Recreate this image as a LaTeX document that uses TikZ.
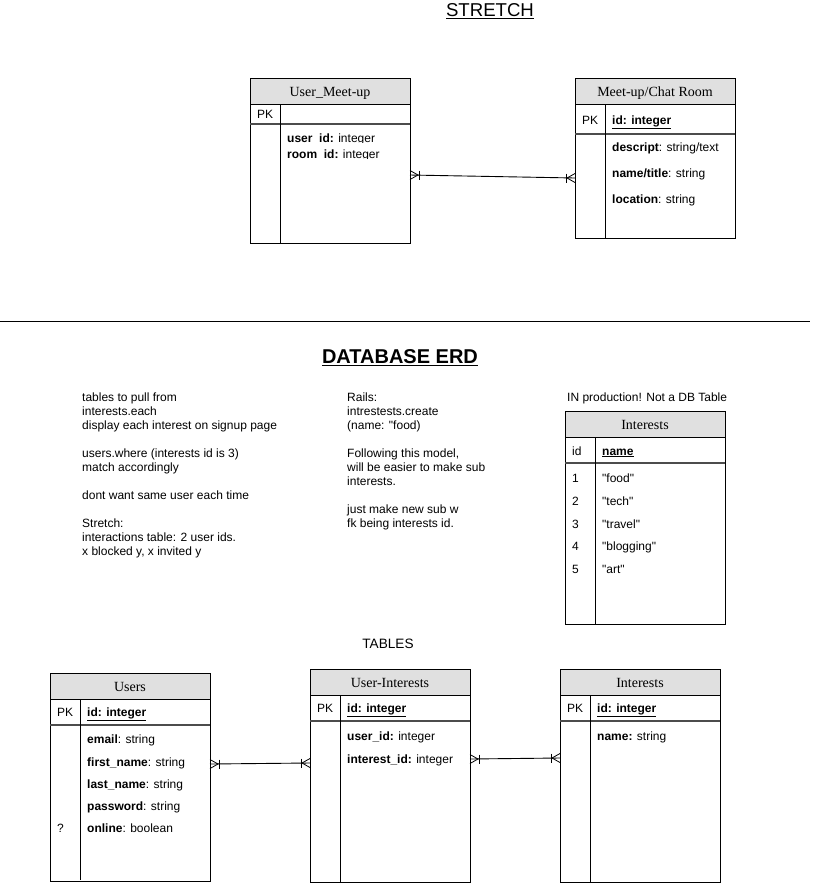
\documentclass[tikz,border=0pt]{standalone}
\usepackage{fontspec}
\setmainfont{Liberation Sans}[Ligatures=TeXOff]
\newfontfamily\serifft{Liberation Serif}[Ligatures=TeXOff]
\usetikzlibrary{calc}
\definecolor{hdrgray}{HTML}{E0E0E0}
\newcommand\nf{\fontsize{12}{14}\selectfont}
\newcommand\hf{\serifft\fontsize{14}{16}\selectfont}
\tikzset{
  tbl/.style={draw, line width=1pt, inner sep=0pt, outer sep=0pt, anchor=north west},
  hdr/.style={fill=hdrgray, draw, line width=1pt},
  sepline/.style={draw=black!70, line width=1.5pt},
  divline/.style={draw, line width=1pt},
  txt/.style={anchor=base west, inner sep=0pt, font=\nf},
  htxt/.style={anchor=base, inner sep=0pt, font=\hf},
  conn/.style={line width=0.9pt},
  crow/.pic={\draw[line width=0.8pt] (0,-4.5) -- (8,0) -- (0,4.5); \draw[line width=0.8pt] (9,-4.5) -- (9,4.5);}
}
\begin{document}
\begin{tikzpicture}[x=1pt,y=-1pt]
\useasboundingbox (0,0) rectangle (812,884);

% ---------- titles ----------
\node[inner sep=0pt, font=\fontsize{18.6}{20}\selectfont] (stretch) at (490,11) {\underline{STRETCH}};
\draw[line width=1pt] (0,321) -- (810,321);
\node[inner sep=0pt, font=\fontsize{20}{22}\selectfont\bfseries] (erd) at (400,358) {\underline{DATABASE ERD}};
\node[anchor=base, inner sep=0pt, font=\fontsize{13.6}{15}\selectfont] (tables) at (388,648) {TABLES};

% ---------- User_Meet-up ----------
\node[tbl, minimum width=160pt, minimum height=165pt] (um) at (250,78) {};
\filldraw[hdr] (250,78) rectangle (410,104);
\node[htxt] (umh) at (330,96) {User\_Meet-up};
\draw[sepline] (250,124) -- (410,124);
\draw[divline] (280,104) -- (280,243);
\node[txt] (umpk) at (257,118) {PK};
\begin{scope}
\clip (281,128) rectangle (409,142.6);
\node[txt] (umf1) at (287,142) {\textbf{user\_id:} integer};
\end{scope}
\begin{scope}
\clip (281,144) rectangle (409,158.6);
\node[txt] (umf2) at (287,158) {\textbf{room\_id:} integer};
\end{scope}

% ---------- Meet-up/Chat Room ----------
\node[tbl, minimum width=160pt, minimum height=160pt] (mc) at (575,78) {};
\filldraw[hdr] (575,78) rectangle (735,104);
\node[htxt] (mch) at (655,96) {Meet-up/Chat Room};
\draw[sepline] (575,134) -- (735,134);
\draw[divline] (605,104) -- (605,238);
\node[txt] (mcpk) at (582,124) {PK};
\node[txt] (mcid) at (612,124) {\textbf{\underline{id: integer}}};
\node[txt] (mcf1) at (612,151) {\textbf{descript}: string/text};
\node[txt] (mcf2) at (612,177) {\textbf{name/title}: string};
\node[txt] (mcf3) at (612,203) {\textbf{location}: string};

% ---------- stretch connector ----------
\coordinate (s1) at ($(um.north east)+(0,97)$);
\coordinate (s2) at ($(mc.north west)+(0,100)$);
\draw[conn] (s1) -- (s2);
\pic (cs1) at (s1) {crow};
\pic[xscale=-1] (cs2) at (s2) {crow};

% ---------- notes ----------
\node[txt] (l1) at (82,401) {tables to pull from};
\node[txt] (l2) at (82,415) {interests.each};
\node[txt] (l3) at (82,429) {display each interest on signup page};
\node[txt] (l4) at (82,457) {users.where (interests id is 3)};
\node[txt] (l5) at (82,471) {match accordingly};
\node[txt] (l6) at (82,499) {dont want same user each time};
\node[txt] (l7) at (82,527) {Stretch:};
\node[txt] (l8) at (82,541) {interactions table: 2 user ids.};
\node[txt] (l9) at (82,555) {x blocked y, x invited y};

\node[txt] (r1) at (347,401) {Rails:};
\node[txt] (r2) at (347,415) {intrestests.create};
\node[txt] (r3) at (347,429) {(name: "food)};
\node[txt] (r4) at (347,457) {Following this model,};
\node[txt] (r5) at (347,471) {will be easier to make sub};
\node[txt] (r6) at (347,485) {interests.};
\node[txt] (r7) at (347,513) {just make new sub w};
\node[txt] (r8) at (347,527) {fk being interests id.};

\node[txt] (prodnote) at (567,401) {IN production! Not a DB Table};

% ---------- Interests (production) ----------
\node[tbl, minimum width=160pt, minimum height=213pt] (ip) at (565,411) {};
\filldraw[hdr] (565,411) rectangle (725,437);
\node[htxt] (iph) at (645,429) {Interests};
\draw[sepline] (565,463) -- (725,463);
\draw[divline] (595,437) -- (595,624);
\node[txt] (ipid) at (572,455) {id};
\node[txt] (ipname) at (602,455) {\textbf{\underline{name}}};
\node[txt] (ipn1) at (572,482) {1};
\node[txt] (ipv1) at (602,482) {"food"};
\node[txt] (ipn2) at (572,505) {2};
\node[txt] (ipv2) at (602,505) {"tech"};
\node[txt] (ipn3) at (572,528) {3};
\node[txt] (ipv3) at (602,528) {"travel"};
\node[txt] (ipn4) at (572,550) {4};
\node[txt] (ipv4) at (602,550) {"blogging"};
\node[txt] (ipn5) at (572,573) {5};
\node[txt] (ipv5) at (602,573) {"art"};

% ---------- Users ----------
\node[tbl, minimum width=160pt, minimum height=208pt] (us) at (50,673) {};
\filldraw[hdr] (50,673) rectangle (210,699);
\node[htxt] (ush) at (130,691) {Users};
\draw[sepline] (50,725) -- (210,725);
\draw[divline] (80,699) -- (80,880);
\node[txt] (uspk) at (57,716) {PK};
\node[txt] (usid) at (87,716) {\textbf{\underline{id: integer}}};
\node[txt] (usf1) at (87,743) {\textbf{email}: string};
\node[txt] (usf2) at (87,766) {\textbf{first\_name}: string};
\node[txt] (usf3) at (87,788) {\textbf{last\_name}: string};
\node[txt] (usf4) at (87,810) {\textbf{password}: string};
\node[txt] (usq) at (57,832) {?};
\node[txt] (usf5) at (87,832) {\textbf{online}: boolean};

% ---------- User-Interests ----------
\node[tbl, minimum width=160pt, minimum height=213pt] (ui) at (310,669) {};
\filldraw[hdr] (310,669) rectangle (470,695);
\node[htxt] (uih) at (390,687) {User-Interests};
\draw[sepline] (310,721) -- (470,721);
\draw[divline] (340,695) -- (340,882);
\node[txt] (uipk) at (317,712) {PK};
\node[txt] (uiid) at (347,712) {\textbf{\underline{id: integer}}};
\node[txt] (uif1) at (347,740) {\textbf{user\_id:} integer};
\node[txt] (uif2) at (347,763) {\textbf{interest\_id:} integer};

% ---------- Interests ----------
\node[tbl, minimum width=160pt, minimum height=213pt] (it) at (560,669) {};
\filldraw[hdr] (560,669) rectangle (720,695);
\node[htxt] (ith) at (640,687) {Interests};
\draw[sepline] (560,721) -- (720,721);
\draw[divline] (590,695) -- (590,882);
\node[txt] (itpk) at (567,712) {PK};
\node[txt] (itid) at (597,712) {\textbf{\underline{id: integer}}};
\node[txt] (itf1) at (597,740) {\textbf{name:} string};

% ---------- connectors ----------
\coordinate (c1a) at ($(us.north east)+(0,91)$);
\coordinate (c1b) at ($(ui.north west)+(0,94)$);
\draw[conn] (c1a) -- (c1b);
\pic (cc1a) at (c1a) {crow};
\pic[xscale=-1] (cc1b) at (c1b) {crow};

\coordinate (c2a) at ($(ui.north east)+(0,90)$);
\coordinate (c2b) at ($(it.north west)+(0,89)$);
\draw[conn] (c2a) -- (c2b);
\pic (cc2a) at (c2a) {crow};
\pic[xscale=-1] (cc2b) at (c2b) {crow};
\end{tikzpicture}
\end{document}
